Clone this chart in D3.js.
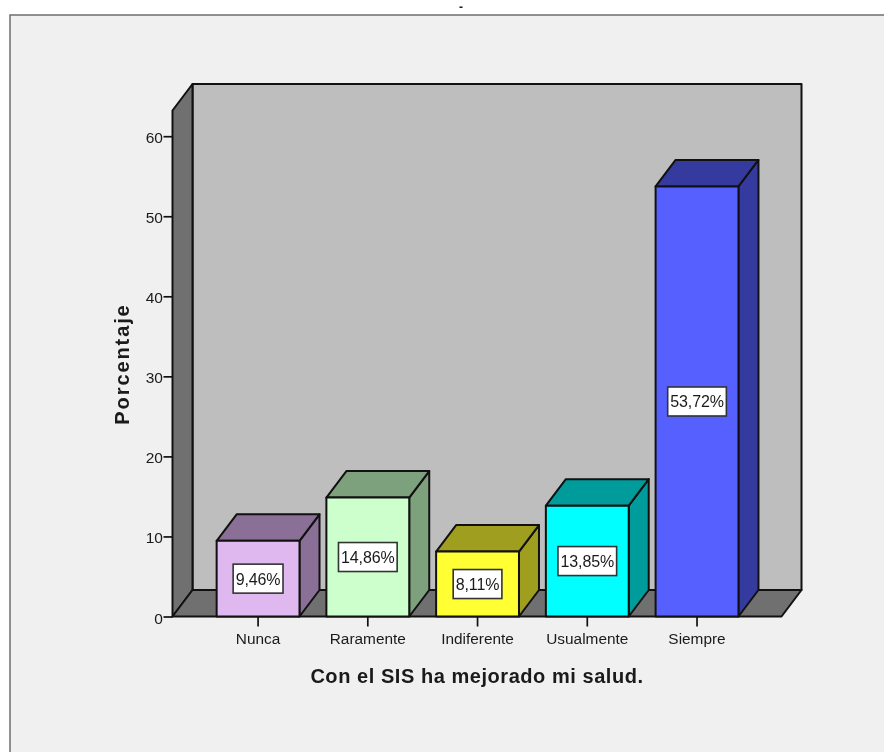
<!DOCTYPE html>
<html><head><meta charset="utf-8">
<style>html,body{margin:0;padding:0;background:#fff}svg{display:block;filter:blur(0.5px)}text{font-family:"Liberation Sans",Arial,sans-serif;fill:#1a1a1a}</style>
<script src="https://cdn.jsdelivr.net/npm/d3@7/dist/d3.min.js"></script></head><body><div id="c"></div>
<script>
const categories=["Nunca","Raramente","Indiferente","Usualmente","Siempre"];
const values=[9.46,14.86,8.11,13.85,53.72];
const valueLabels=["9,46%","14,86%","8,11%","13,85%","53,72%"];
const frontColors=["#dfb8f0","#ccffcc","#ffff33","#00ffff","#5560ff"];
const sideColors=["#8a7096","#7da07d","#a09e1e","#009c9c","#353b9e"];
const yTicks=[0,10,20,30,40,50,60];
const W=884,H=752,dx=20,dy=-26.5,ink="#111";
const svg=d3.select("#c").append("svg").attr("width",W).attr("height",H);
svg.append("rect").attr("x",10).attr("y",15).attr("width",W).attr("height",H).attr("fill","#f0f0f0").attr("stroke","#6e6e6e").attr("stroke-width",1.5);
svg.append("text").attr("x",461).attr("y",11).attr("text-anchor","middle").attr("font-size",12).attr("font-weight","bold").text("-");
const y=d3.scaleLinear().domain([0,60]).range([616.5,136.2]);
const x=d3.scaleBand().domain(categories).range([203.2,751.9]).paddingInner(0.245).paddingOuter(0.1225);
const xL=172.5,xR=781.5,yTop=110.5,y0=y(0);
const poly=(pts,f)=>svg.append("polygon").attr("points",pts.map(p=>p.join(",")).join(" ")).attr("fill",f).attr("stroke",ink).attr("stroke-width",2).attr("stroke-linejoin","round");
poly([[xL+dx,yTop+dy],[xR+dx,yTop+dy],[xR+dx,y0+dy],[xL+dx,y0+dy]],"#bebebe");
poly([[xL,yTop],[xL+dx,yTop+dy],[xL+dx,y0+dy],[xL,y0]],"#707070");
poly([[xL,y0],[xL+dx,y0+dy],[xR+dx,y0+dy],[xR,y0]],"#707070");
const ya=d3.axisLeft(y).tickValues(yTicks).tickSize(9).tickPadding(1);
const gy=svg.append("g").attr("transform",`translate(${xL},0)`).call(ya);
gy.select(".domain").remove();
gy.selectAll("line").attr("stroke",ink).attr("stroke-width",1.7);
gy.selectAll("text").attr("font-size",15.5).attr("font-family",'"Liberation Sans"').attr("letter-spacing",-0.3).attr("dy","0.42em");
const xa=d3.axisBottom(x).tickSize(10).tickPadding(7);
const gx=svg.append("g").attr("transform",`translate(0,${y0})`).call(xa);
gx.select(".domain").remove();
gx.selectAll("line").attr("stroke",ink).attr("stroke-width",1.7);
gx.selectAll("text").attr("font-size",15.4).attr("font-family",'"Liberation Sans"');
categories.forEach((c,i)=>{
 const l=x(c),r=l+x.bandwidth(),t=y(values[i]);
 poly([[r,t],[r+dx,t+dy],[r+dx,y0+dy],[r,y0]],sideColors[i]);
 poly([[l,t],[l+dx,t+dy],[r+dx,t+dy],[r,t]],sideColors[i]);
 poly([[l,t],[r,t],[r,y0],[l,y0]],frontColors[i]);
 const cx=(l+r)/2,cy=(t+y0)/2;
 const g=svg.append("g");
 const tx=g.append("text").attr("x",cx).attr("y",cy+6).attr("text-anchor","middle").attr("font-size",16).attr("letter-spacing",-0.1).text(valueLabels[i]);
 const w=tx.node().getComputedTextLength()+5;
 g.insert("rect","text").attr("x",cx-w/2).attr("y",cy-14.5).attr("width",w).attr("height",29).attr("fill","#fff").attr("stroke","#333").attr("stroke-width",1.6);
});
svg.append("text").attr("x",477).attr("y",683).attr("text-anchor","middle").attr("font-size",20).attr("font-weight","bold").attr("letter-spacing",0.55).text("Con el SIS ha mejorado mi salud.");
svg.append("text").attr("transform","translate(129,364) rotate(-90)").attr("text-anchor","middle").attr("font-size",20).attr("font-weight","bold").attr("letter-spacing",1.9).text("Porcentaje");
</script></body></html>
